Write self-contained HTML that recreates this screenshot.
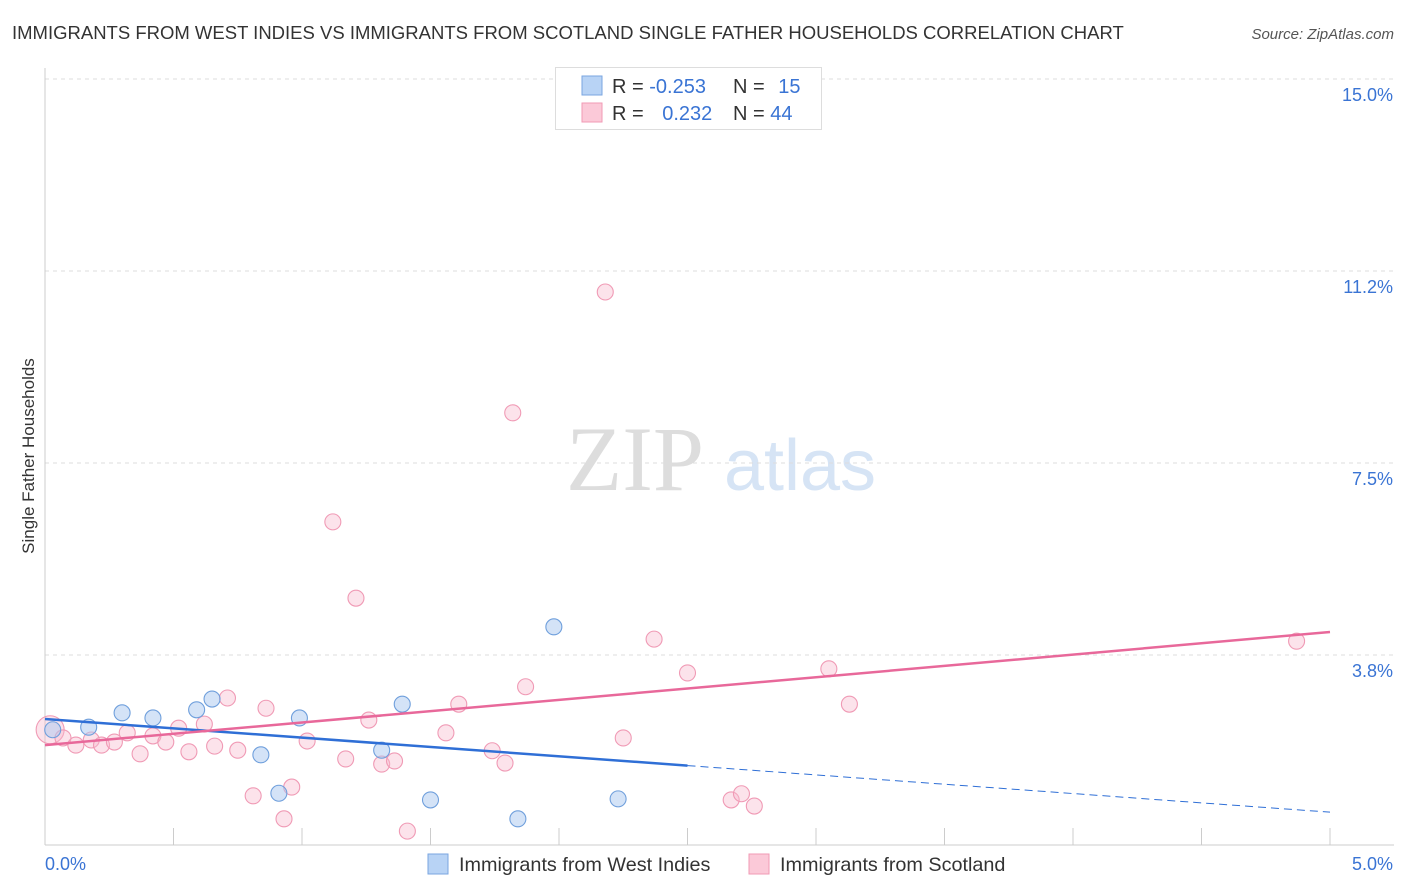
<!DOCTYPE html>
<html><head><meta charset="utf-8"><style>
body{margin:0;background:#fff;font-family:"Liberation Sans",sans-serif;}
svg{display:block}
</style></head><body>
<svg id="c" width="1406" height="892">
<text x="12" y="39" font-size="18.5" fill="#333">IMMIGRANTS FROM WEST INDIES VS IMMIGRANTS FROM SCOTLAND SINGLE FATHER HOUSEHOLDS CORRELATION CHART</text>
<text x="1394" y="39" font-size="15" fill="#555" text-anchor="end" font-style="italic">Source: ZipAtlas.com</text>
<g>
<text x="635" y="490" font-size="92" fill="#ddd" text-anchor="middle" font-family="Liberation Serif,serif">ZIP</text>
<text x="800" y="490" font-size="72" fill="#d6e4f5" text-anchor="middle">atlas</text>
</g>
<g id="grid"></g>
<g id="axes"></g>
<g id="marks"></g>
<text transform="translate(34,456) rotate(-90)" font-size="17" fill="#333" text-anchor="middle">Single Father Households</text>
<g>
<rect x="555.5" y="67.5" width="266" height="62" fill="#fff" stroke="#ddd"/>
<rect x="582" y="76" width="20" height="19" fill="#b8d3f5" stroke="#7aa6e0"/>
<rect x="582" y="103" width="20" height="19" fill="#fbc9d8" stroke="#f09ab5"/>
<text x="612" y="93" font-size="20" fill="#333">R = <tspan fill="#3a74d4">-0.253</tspan></text>
<text x="733" y="93" font-size="20" fill="#333">N = <tspan fill="#3a74d4" dx="8">15</tspan></text>
<text x="612" y="120" font-size="20" fill="#333">R = <tspan fill="#3a74d4" dx="13">0.232</tspan></text>
<text x="733" y="120" font-size="20" fill="#333">N = <tspan fill="#3a74d4">44</tspan></text>
</g>
<g>
<rect x="428" y="854" width="20" height="20" fill="#b8d3f5" stroke="#7aa6e0"/>
<text x="459" y="871" font-size="19.8" fill="#333">Immigrants from West Indies</text>
<rect x="749" y="854" width="20" height="20" fill="#fbc9d8" stroke="#f09ab5"/>
<text x="780" y="871" font-size="19.8" fill="#333">Immigrants from Scotland</text>
</g>
</svg>
<script>
const yTicks=[3.75,7.5,11.25,15];
const yTickLabels=["3.8%","7.5%","11.2%","15.0%"];
const xTickLabels=["0.0%","5.0%"];
const blueX=[0.03,0.17,0.30,0.42,0.59,0.65,0.84,0.91,0.99,1.31,1.39,1.50,1.84,1.98,2.23];
const blueY=[2.29,2.34,2.62,2.52,2.68,2.89,1.80,1.05,2.52,1.89,2.79,0.92,0.55,4.30,0.94];
const pinkX=[0.02,0.07,0.12,0.18,0.22,0.27,0.32,0.37,0.42,0.47,0.52,0.56,0.62,0.66,0.71,0.75,0.81,0.86,0.93,0.96,1.02,1.12,1.17,1.21,1.26,1.31,1.36,1.41,1.56,1.61,1.74,1.79,1.82,1.87,2.18,2.25,2.37,2.50,2.67,2.71,2.76,3.05,3.13,4.87];
const pinkY=[2.29,2.13,1.99,2.09,1.99,2.05,2.23,1.82,2.17,2.05,2.32,1.86,2.40,1.97,2.91,1.89,1.00,2.71,0.55,1.17,2.07,6.35,1.72,4.86,2.48,1.62,1.68,0.31,2.23,2.79,1.88,1.64,8.48,3.13,10.84,2.13,4.06,3.40,0.92,1.04,0.80,3.48,2.79,4.02];
const blueTrend=[2.50,0.68];
const pinkTrend=[1.99,4.20];
const NS="http://www.w3.org/2000/svg";
const X=v=>45+v/5*1285, Y=v=>847-v*51.2;
function mk(t,a,p){const e=document.createElementNS(NS,t);for(const k in a)e.setAttribute(k,a[k]);p.appendChild(e);return e;}
const grid=document.getElementById('grid'),axes=document.getElementById('axes'),marks=document.getElementById('marks');
yTicks.forEach((t,i)=>{
 const l=mk('line',{x1:45,x2:1394,y1:Y(t),y2:Y(t),stroke:'#ddd','stroke-dasharray':'4,4'},grid);
 
 
 const tx=mk('text',{x:1393,y:Y(t)+22,'font-size':18,fill:'#3a74d4','text-anchor':'end'},axes);
 tx.textContent=yTickLabels[i];
 
 
});
const ax=mk('line',{x1:45,x2:45,y1:68,y2:845,stroke:'#ccc'},axes);


const bx=mk('line',{x1:45,x2:1394,y1:845,y2:845,stroke:'#ccc'},axes);


for(let i=1;i<=10;i++){const t=mk('line',{x1:X(i*0.5),x2:X(i*0.5),y1:828,y2:845,stroke:'#ccc'},axes);
 
 }
const xl0=mk('text',{x:45,y:870,'font-size':18,fill:'#3a74d4'},axes);xl0.textContent=xTickLabels[0];


const xl1=mk('text',{x:1393,y:870,'font-size':18,fill:'#3a74d4','text-anchor':'end'},axes);xl1.textContent=xTickLabels[1];


pinkX.forEach((x,i)=>{const c=mk('circle',{cx:X(x),cy:Y(pinkY[i]),r:i==0?14:8,fill:'rgba(248,185,205,0.4)',stroke:'#f09ab5','stroke-width':1.1},marks);
 
 });
blueX.forEach((x,i)=>{const c=mk('circle',{cx:X(x),cy:Y(blueY[i]),r:8,fill:'rgba(170,200,240,0.5)',stroke:'#6f9fdc','stroke-width':1.1},marks);
 
 });
const bm=blueTrend[0]+(blueTrend[1]-blueTrend[0])*0.5;
const b1=mk('line',{x1:X(0),y1:Y(blueTrend[0]),x2:X(2.5),y2:Y(bm),stroke:'#2f6fd6','stroke-width':2.5},marks);


const b2=mk('line',{x1:X(2.5),y1:Y(bm),x2:X(5),y2:Y(blueTrend[1]),stroke:'#2f6fd6','stroke-width':1,'stroke-dasharray':'8,5'},marks);


const p1=mk('line',{x1:X(0),y1:Y(pinkTrend[0]),x2:X(5),y2:Y(pinkTrend[1]),stroke:'#e8689a','stroke-width':2.5},marks);


</script>
</body></html>
